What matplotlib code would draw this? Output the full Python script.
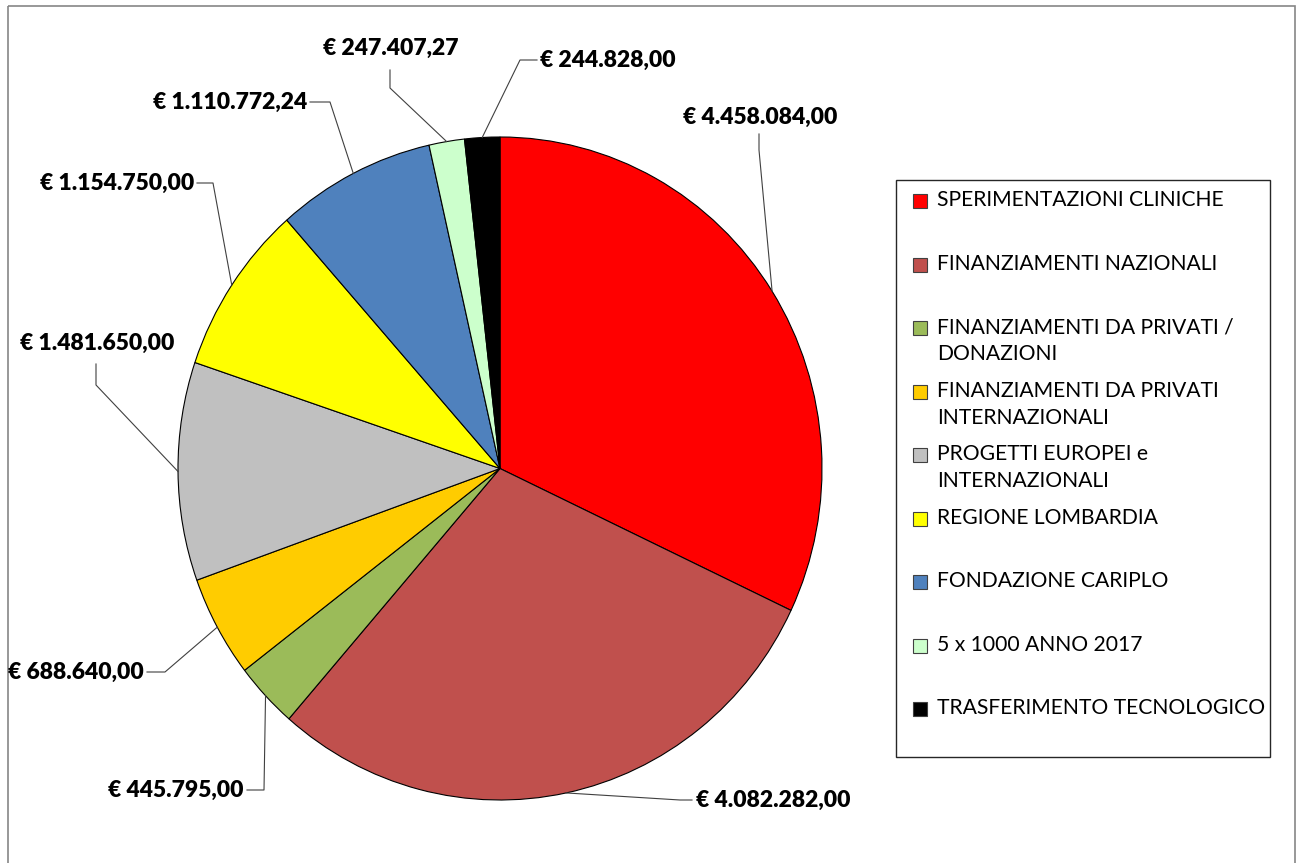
import numpy as np
import matplotlib.pyplot as plt
from matplotlib.patches import Rectangle

# Fonti di finanziamento della ricerca (euro)
categorie = [
    "SPERIMENTAZIONI CLINICHE",
    "FINANZIAMENTI NAZIONALI",
    "FINANZIAMENTI DA PRIVATI /\nDONAZIONI",
    "FINANZIAMENTI DA PRIVATI\nINTERNAZIONALI",
    "PROGETTI EUROPEI e\nINTERNAZIONALI",
    "REGIONE LOMBARDIA",
    "FONDAZIONE CARIPLO",
    "5 x 1000 ANNO 2017",
    "TRASFERIMENTO TECNOLOGICO",
]
importi = [4458084.00, 4082282.00, 445795.00, 688640.00, 1481650.00,
           1154750.00, 1110772.24, 247407.27, 244828.00]
colori = ["#FF0000", "#C0504D", "#9BBB59", "#FFCC00", "#C0C0C0",
          "#FFFF00", "#4F81BD", "#CCFFCC", "#000000"]

# posizione etichette (pixel): x, y, allineamento, punti del richiamo
etichette_pos = [
    ((760, 117), "center", [(759, 134), (759, 150)]),
    ((696, 800), "left", [(692, 800), (680, 800)]),
    ((244, 790), "right", [(247, 790), (264, 790)]),
    ((144, 672), "right", [(147, 672), (165, 672)]),
    ((97, 343), "center", [(96, 364), (96, 385)]),
    ((194, 183), "right", [(197, 183), (213, 183)]),
    ((307, 102), "right", [(310, 102), (330, 102)]),
    ((391, 48), "center", [(390, 70), (390, 88)]),
    ((540, 60), "left", [(537, 60), (520, 60)]),
]


def formato_euro(v):
    s = f"{v:,.2f}".replace(",", "X").replace(".", ",").replace("X", ".")
    return "€ " + s


W, H = 1297, 863
fig = plt.figure(figsize=(W / 100, H / 100), dpi=100)
fig.patch.set_facecolor("white")

# area della torta (leggermente ellittica)
ax = fig.add_axes([178 / W, (H - 800) / H, 644 / W, 663 / H])
wedges, _ = ax.pie(importi, colors=colori, startangle=90, counterclock=False,
                   wedgeprops=dict(edgecolor="black", linewidth=0.8))
ax.set_aspect("auto")
ax.set_xlim(-1, 1)
ax.set_ylim(-1, 1)
ax.axis("off")

# livello sovrapposto in coordinate pixel
ov = fig.add_axes([0, 0, 1, 1])
ov.set_xlim(0, W)
ov.set_ylim(H, 0)
ov.axis("off")

ov.add_patch(Rectangle((7.5, 6.5), 1287.5, 900, fill=False,
                       edgecolor="#868686", linewidth=1.2, clip_on=False))

to_ov = ax.transData + ov.transData.inverted()
font_lab = dict(family="Lato", fontsize=16.5, fontweight="heavy")
for w, v, ((tx, ty), ha, punti) in zip(wedges, importi, etichette_pos):
    ang = np.deg2rad((w.theta1 + w.theta2) / 2)
    bordo = to_ov.transform((np.cos(ang), np.sin(ang)))
    xs = [p[0] for p in punti] + [bordo[0]]
    ys = [p[1] for p in punti] + [bordo[1]]
    ov.plot(xs, ys, color="#404040", linewidth=0.8)
    ov.text(tx, ty, formato_euro(v), ha=ha, va="center", color="black", **font_lab)

# legenda
ov.add_patch(Rectangle((896, 180), 374, 577, fill=False,
                       edgecolor="#262626", linewidth=1.0))
for i, (nome, col) in enumerate(zip(categorie, colori)):
    y0 = 201 + i * 63.5
    ov.add_patch(Rectangle((913, y0 - 7), 14, 14, facecolor=col,
                           edgecolor="#404040", linewidth=0.8))
    ov.text(937, y0 - 11, nome, ha="left", va="top", family="Lato",
            fontsize=15.2, color="black", linespacing=1.45)

fig.savefig("out.png", dpi=100)
